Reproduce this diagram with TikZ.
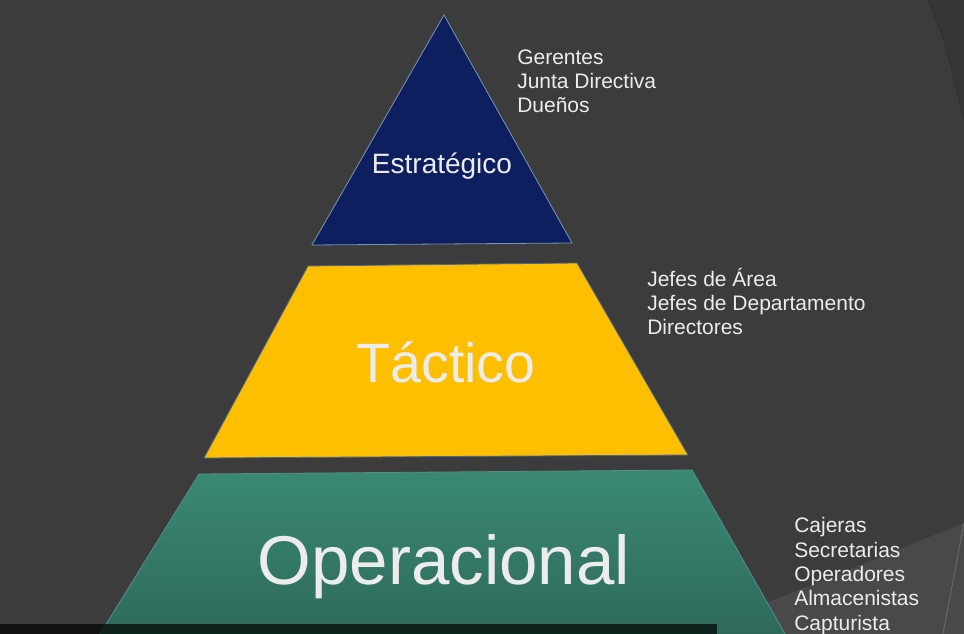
\documentclass[tikz,border=0pt]{standalone}
\usepackage{fontspec}
\setmainfont{Liberation Sans}
\definecolor{slide}{RGB}{60,60,60}
\definecolor{facet}{RGB}{73,73,73}
\definecolor{seam}{RGB}{50,50,50}
\definecolor{navy}{RGB}{13,31,94}
\definecolor{gold}{RGB}{253,191,0}
\definecolor{tealtop}{RGB}{58,137,115}
\definecolor{tealbot}{RGB}{46,106,92}
\definecolor{rim}{RGB}{120,150,180}
\definecolor{ink}{RGB}{236,236,236}
\tikzstyle{level} = [
  draw=rim,
  line width=0.6pt,
  line join=miter
]
\tikzstyle{levelname} = [
  text=ink,
  inner sep=0,
  anchor=base
]
\tikzstyle{roles} = [
  text=ink,
  inner sep=0,
  align=left,
  anchor=base west,
  font=\fontsize{15.75}{18.2}\selectfont
]

\begin{document}
\begin{tikzpicture}[x=0.75pt,y=-0.75pt]
      \useasboundingbox (0,0) rectangle (964,634);
      \clip (0,0) rectangle (964,634);
      % slide background with its facets
      \fill [slide] (0,0) rectangle (964,634);
      \fill [black!10!slide] (928,0) .. controls (945,40) .. (964,120) -- (964,0) -- cycle;
      \draw [seam, line width=1pt] (928,0) .. controls (945,40) .. (964,120);
      \fill [facet] (700,630) -- (964,523) -- (964,634) -- (700,634) -- cycle;
      \draw [facet!80!white, line width=0.6pt] (964,523) -- (943,634);

      % corners of the three levels
      \coordinate (apex) at (444,15);
      \coordinate (top left) at (312,245);
      \coordinate (top right) at (572,243);
      \coordinate (mid nw) at (308,266);
      \coordinate (mid ne) at (577,263);
      \coordinate (mid sw) at (204,458);
      \coordinate (mid se) at (688,455);
      \coordinate (low nw) at (199,474);
      \coordinate (low ne) at (692,470);
      \coordinate (low sw) at (100,634);
      \coordinate (low se) at (785,634);

      \filldraw [level, fill=navy] (apex) -- (top right) -- (top left) -- cycle;
      \filldraw [level, draw=rim!60!navy, fill=gold] (mid nw) -- (mid ne) -- (mid se) -- (mid sw) -- cycle;
      \path [top color=tealtop, bottom color=tealbot] (low nw) -- (low ne) -- (low se) -- (low sw) -- cycle;
      \draw [level, draw=rim!40!tealtop] (low sw) -- (low nw) -- (low ne) -- (low se);

      \node [levelname, font=\fontsize{21}{25}\selectfont] (strategic) at (442,174) {Estratégico};
      \node [levelname, font=\fontsize{41.6}{48}\selectfont] (tactical) at (446,383) {Táctico};
      \node [levelname, font=\fontsize{51.8}{60}\selectfont] (operational) at (444,584) {Operacional};

      % the base of a list is its last line
      \node [roles] (strategic roles) at (517,113) {Gerentes\\Junta Directiva\\Dueños};
      \node [roles] (tactical roles) at (647,335) {Jefes de Área\\Jefes de Departamento\\Directores};
      \node [roles] (operational roles) at (794,630) {Cajeras\\Secretarias\\Operadores\\Almacenistas\\Capturista};

      % caption bar of the video
      \fill [black, opacity=0.68] (0,624) rectangle (717,634);
    \end{tikzpicture}
\end{document}
